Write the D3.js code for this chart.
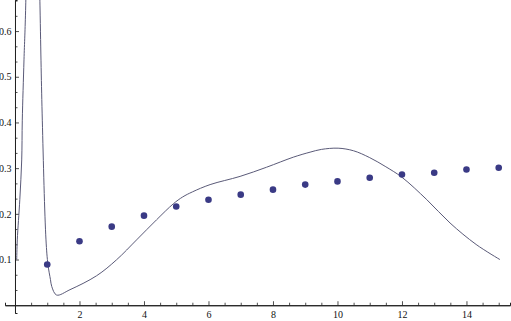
<!DOCTYPE html>
<html>
<head>
<meta charset="utf-8">
<script src="https://cdn.jsdelivr.net/npm/d3@7"></script>
<style>
    body { margin: 0; background: #fff; }
    svg { display: block; }
</style>
</head>
<body>
<svg id="svgPlot" width="511" height="321"></svg>
<script>

// measured points (x = 1..15)
const pointX = [1, 2, 3, 4, 5, 6, 7, 8, 9, 10, 11, 12, 13, 14, 15];
const pointY = [0.089, 0.140, 0.172, 0.196, 0.216, 0.231, 0.242, 0.253, 0.264, 0.271, 0.279, 0.286, 0.290, 0.297, 0.301];

// fitted curve (peak of the spike is off the top)
const curveX = [0.053, 0.071, 0.149, 0.208, 0.226, 0.279, 0.332, 0.55, 0.775, 0.847, 0.961, 1.023, 1.10, 1.14, 1.29,
    1.705, 2.53, 3.15, 3.77, 4.39, 4.91, 5.2, 5.5, 6.05, 6.98, 7.8, 8.63, 9.15, 9.5, 10.02, 10.5, 11.0, 11.5, 12.0, 12.77, 13.49, 14.3, 15.04];
const curveY = [0.0995, 0.143, 0.231, 0.318, 0.405, 0.537, 0.655, 1.6, 0.655, 0.405, 0.143, 0.0885, 0.056, 0.041, 0.0223,
    0.034, 0.0645, 0.0995, 0.143, 0.187, 0.222, 0.237, 0.248, 0.264, 0.282, 0.302, 0.324, 0.335, 0.341, 0.3437, 0.338, 0.323, 0.303, 0.280, 0.231, 0.18, 0.133, 0.0998];

const xTickLabels = [2, 4, 6, 8, 10, 12, 14];
const yTickLabels = [0.1, 0.2, 0.3, 0.4, 0.5, 0.6];

const xMinorTicks = d3.range(0.5, 15.3, 0.5).filter(d => d % 2 !== 0);
const yMinorTicks = d3.range(1, 21).filter(k => k % 3 !== 0).map(k => k / 30);

const svg = d3.select('#svgPlot');
const width = +svg.attr('width');
const height = +svg.attr('height');

const xScale = d3.scaleLinear()
    .domain([-0.31, 15.35])
    .range([5, 510]);

const yScale = d3.scaleLinear()
    .domain([-0.017, 0.668])
    .range([313, 0]);

const axisColor = '#222';

svg.append('defs')
    .append('clipPath')
        .attr('id', 'plotClip')
    .append('rect')
        .attr('x', 0)
        .attr('y', 0)
        .attr('width', width)
        .attr('height', height);

// x axis: minor ticks first, then labelled major ticks
const xAxisGroup = svg.append('g')
    .attr('transform', `translate(0, ${yScale(0)})`);

xAxisGroup.append('g')
    .call(d3.axisBottom(xScale)
        .tickValues(xMinorTicks)
        .tickSize(-2.5)
        .tickFormat(''));

xAxisGroup.append('g')
    .call(d3.axisBottom(xScale)
        .tickValues(xTickLabels)
        .tickSize(-4)
        .tickSizeOuter(0)
        .tickPadding(5.5));

// y axis
const yAxisGroup = svg.append('g')
    .attr('transform', `translate(${xScale(0)}, 0)`);

yAxisGroup.append('g')
    .call(d3.axisLeft(yScale)
        .tickValues(yMinorTicks)
        .tickSize(-2.5)
        .tickFormat(''));

yAxisGroup.append('g')
    .call(d3.axisLeft(yScale)
        .tickValues(yTickLabels)
        .tickSize(-4)
        .tickSizeOuter(0)
        .tickPadding(3.5)
        .tickFormat(d3.format('.1f')));

svg.selectAll('.domain')
    .attr('stroke', axisColor)
    .attr('stroke-width', 1);
svg.selectAll('.tick line')
    .attr('stroke', axisColor)
    .attr('stroke-width', 0.8);
svg.selectAll('.tick text')
    .style('font-family', '"Liberation Serif", "DejaVu Serif", serif')
    .style('font-size', '10px')
    .attr('fill', '#111');

// the curve
const curveData = curveX.map((x, i) => ({x: x, y: curveY[i]}));

svg.append('path')
    .datum(curveData)
    .attr('clip-path', 'url(#plotClip)')
    .attr('fill', 'none')
    .attr('stroke', '#5a5a78')
    .attr('stroke-width', 1)
    .attr('d', d3.line()
        .x(d => xScale(d.x))
        .y(d => yScale(d.y))
        .curve(d3.curveCatmullRom.alpha(0.5))
    );

// the points
const pointData = pointX.map((x, i) => ({x: x, y: pointY[i]}));

svg.selectAll('.dataPoint')
    .data(pointData)
    .join('circle')
        .classed('dataPoint', true)
        .attr('cx', d => xScale(d.x))
        .attr('cy', d => yScale(d.y))
        .attr('r', 3.3)
        .style('fill', '#3a3a85');

</script>
</body>
</html>
